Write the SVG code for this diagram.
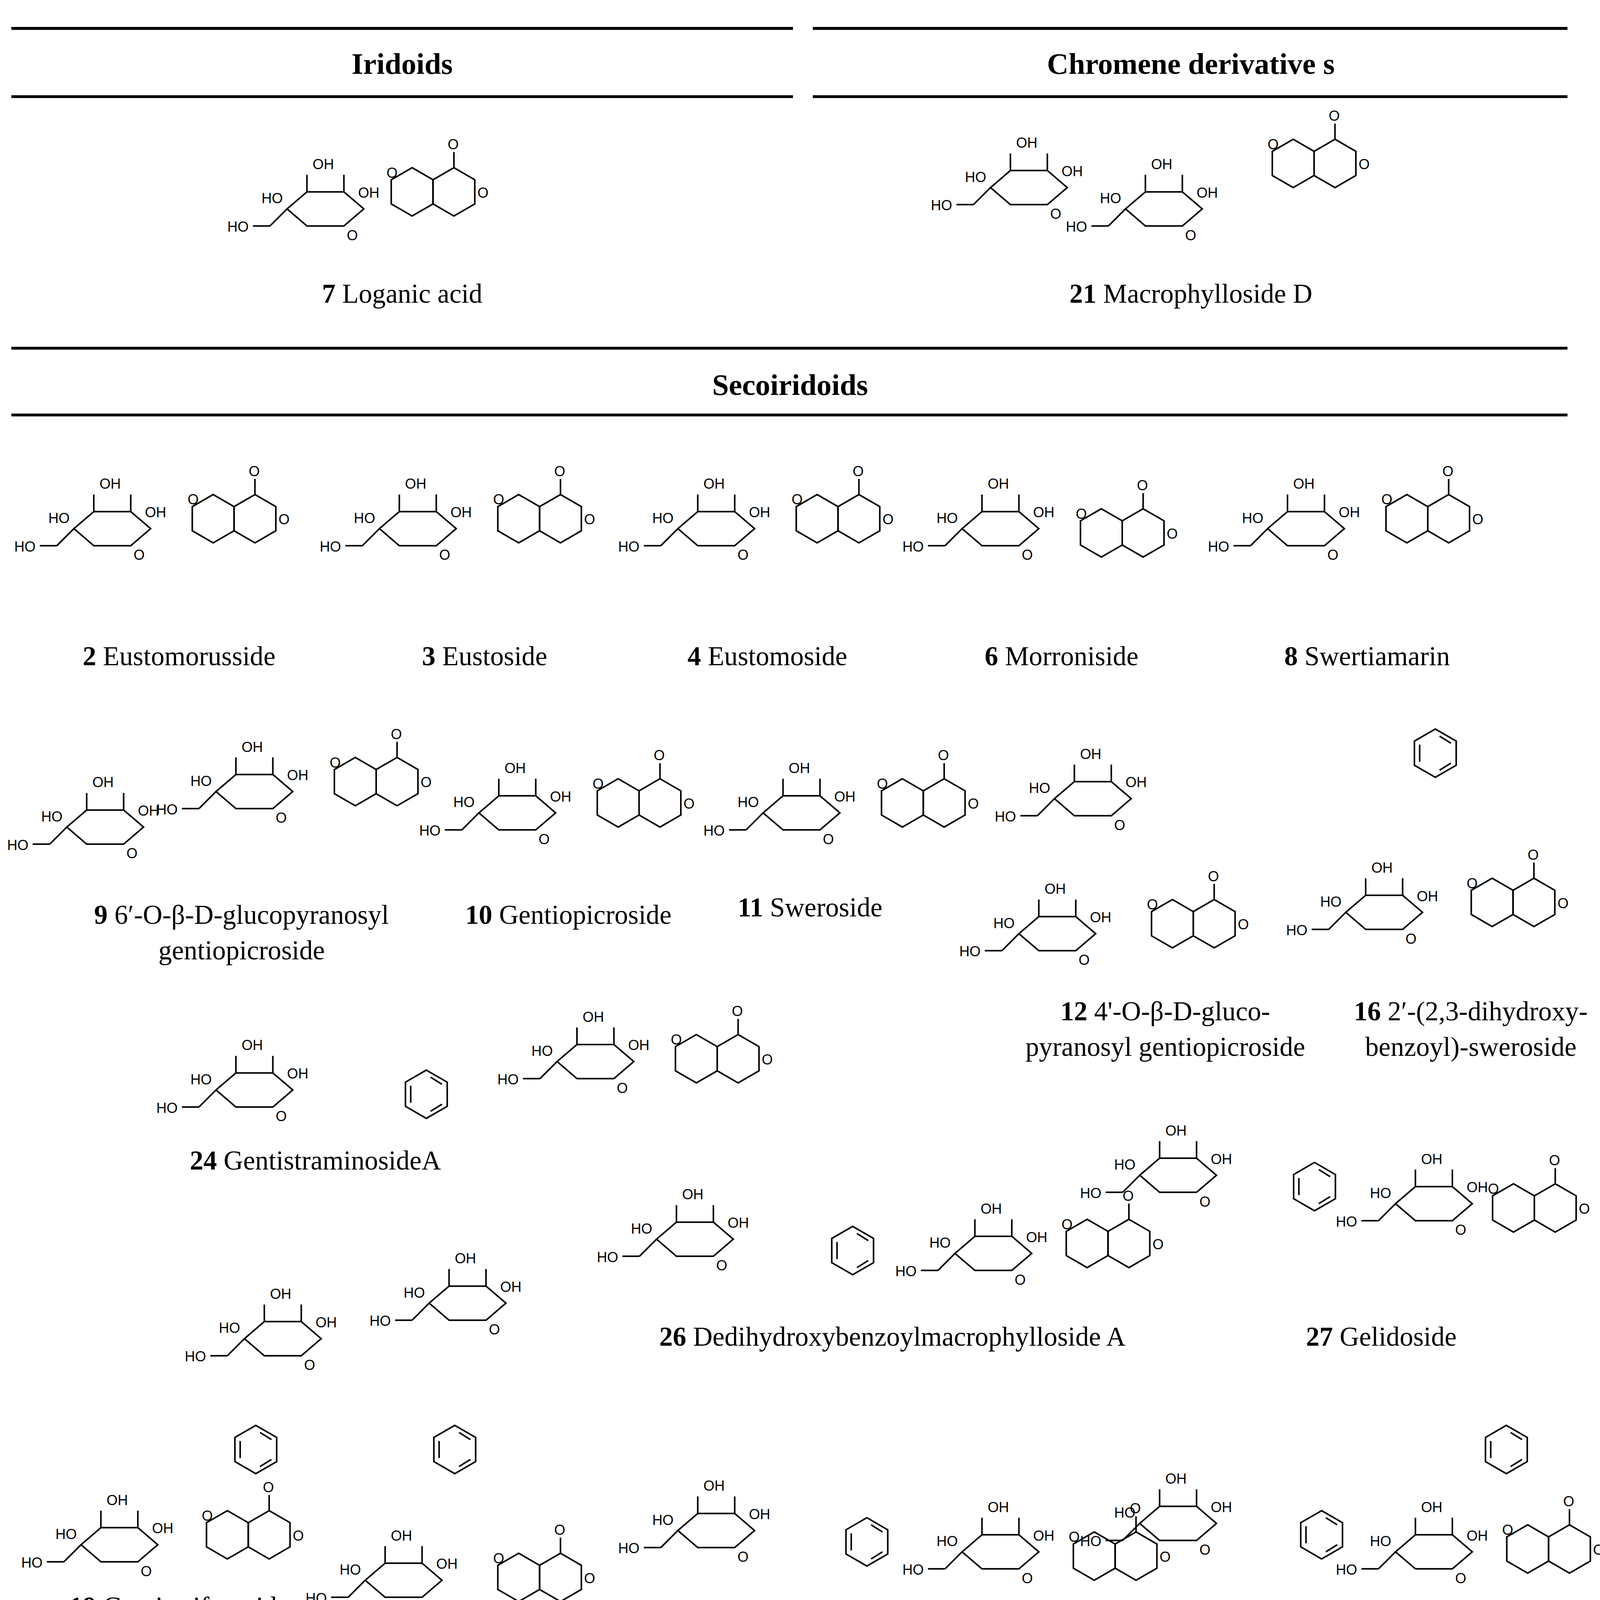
<svg xmlns="http://www.w3.org/2000/svg" width="4158" height="5680" viewBox="0 0 4158 5680">
<style>
.b{stroke:#000;stroke-width:1.1;fill:none}
.t{font-family:"Liberation Serif",serif;font-size:19px;text-anchor:middle;fill:#000}
.h{font-family:"Liberation Serif",serif;font-size:21px;font-weight:bold;text-anchor:middle;fill:#000}
.a{font-family:"Liberation Sans",sans-serif;font-size:10px;fill:#000}
.r{stroke:#000;stroke-width:2;fill:none}
</style>
<defs>
<g id="g">
<polygon class="b" points="-28,2 -14,-10 12,-10 26,2 12,14 -14,14"/>
<line class="b" x1="-14" y1="-10" x2="-14" y2="-22"/><line class="b" x1="12" y1="-10" x2="12" y2="-22"/>
<line class="b" x1="-28" y1="2" x2="-40" y2="14"/><line class="b" x1="-40" y1="14" x2="-52" y2="14"/>
<text class="a" x="-10" y="-26">OH</text><text class="a" x="-46" y="-2">HO</text><text class="a" x="22" y="-6">OH</text>
<text class="a" x="-70" y="18">HO</text><text class="a" x="14" y="24">O</text>
</g>
<g id="s">
<polygon class="b" points="0,-17 14.7,-8.5 14.7,8.5 0,17 -14.7,8.5 -14.7,-8.5"/>
<polygon class="b" points="29.4,-17 44.1,-8.5 44.1,8.5 29.4,17 14.7,8.5 14.7,-8.5"/>
<line class="b" x1="29.4" y1="-17" x2="29.4" y2="-28"/>
<text class="a" x="25" y="-30">O</text><text class="a" x="46" y="4">O</text><text class="a" x="-18" y="-10">O</text>
</g>
<g id="p">
<polygon class="b" points="0,-17 14.7,-8.5 14.7,8.5 0,17 -14.7,8.5 -14.7,-8.5"/>
<line class="b" x1="3" y1="-12" x2="11" y2="-7"/><line class="b" x1="-11" y1="-6" x2="-11" y2="6"/><line class="b" x1="3" y1="12" x2="11" y2="7"/>
</g>
<g id="f">
<use href="#p"/><use href="#p" x="29.4"/>
<line class="b" x1="29.4" y1="17" x2="29.4" y2="28"/>
<text class="a" x="26" y="38">O</text><text class="a" x="26" y="-19">O</text>
</g>
</defs>
<g transform="scale(3.638)">
<g id="headers">
<line class="r" x1="8" y1="20" x2="558" y2="20"/><line class="r" x1="572" y1="20" x2="1103" y2="20"/>
<text class="h" x="283" y="52">Iridoids</text><text class="h" x="838" y="52">Chromene derivative s</text>
<line class="r" x1="8" y1="68" x2="558" y2="68"/><line class="r" x1="572" y1="68" x2="1103" y2="68"/>
<line class="r" x1="8" y1="245" x2="1103" y2="245"/><text class="h" x="556" y="278">Secoiridoids</text>
<line class="r" x1="8" y1="292" x2="1103" y2="292"/>
<line class="r" x1="8" y1="1220" x2="1103" y2="1220"/><text class="h" x="556" y="1252">Flavonoids</text>
<line class="r" x1="8" y1="1268" x2="1103" y2="1268"/>
</g>
<g id="n7"><use href="#g" x="230" y="145"/><use href="#s" x="290" y="135"/><text class="t" x="283" y="213"><tspan font-weight="bold">7</tspan> Loganic acid</text></g>
<g id="n21"><use href="#g" x="725" y="130"/><use href="#g" x="820" y="145"/><use href="#s" x="910" y="115"/><text class="t" x="838" y="213"><tspan font-weight="bold">21</tspan> Macrophylloside D</text></g>
<g id="n2"><use href="#g" x="80" y="370"/><use href="#s" x="150" y="365"/><text class="t" x="126" y="468"><tspan font-weight="bold">2</tspan> Eustomorusside</text></g>
<g id="n3"><use href="#g" x="295" y="370"/><use href="#s" x="365" y="365"/><text class="t" x="341" y="468"><tspan font-weight="bold">3</tspan> Eustoside</text></g>
<g id="n4"><use href="#g" x="505" y="370"/><use href="#s" x="575" y="365"/><text class="t" x="540" y="468"><tspan font-weight="bold">4</tspan> Eustomoside</text></g>
<g id="n6"><use href="#g" x="705" y="370"/><use href="#s" x="775" y="375"/><text class="t" x="747" y="468"><tspan font-weight="bold">6</tspan> Morroniside</text></g>
<g id="n8"><use href="#g" x="920" y="370"/><use href="#s" x="990" y="365"/><text class="t" x="962" y="468"><tspan font-weight="bold">8</tspan> Swertiamarin</text></g>
<g id="n9"><use href="#g" x="75" y="580"/><use href="#g" x="180" y="555"/><use href="#s" x="250" y="550"/><text class="t" x="170" y="650"><tspan font-weight="bold">9</tspan> 6′-O-β-D-glucopyranosyl</text><text class="t" x="170" y="675">gentiopicroside</text></g>
<g id="n10"><use href="#g" x="365" y="570"/><use href="#s" x="435" y="565"/><text class="t" x="400" y="650"><tspan font-weight="bold">10</tspan> Gentiopicroside</text></g>
<g id="n11"><use href="#g" x="565" y="570"/><use href="#s" x="635" y="565"/><text class="t" x="570" y="645"><tspan font-weight="bold">11</tspan> Sweroside</text></g>
<g id="n12"><use href="#g" x="770" y="560"/><use href="#g" x="745" y="655"/><use href="#s" x="825" y="650"/><text class="t" x="820" y="718"><tspan font-weight="bold">12</tspan> 4'-O-β-D-gluco-</text><text class="t" x="820" y="743">pyranosyl gentiopicroside</text></g>
<g id="n16"><use href="#p" x="1010" y="530"/><use href="#g" x="975" y="640"/><use href="#s" x="1050" y="635"/><text class="t" x="1035" y="718"><tspan font-weight="bold">16</tspan> 2′-(2,3-dihydroxy-</text><text class="t" x="1035" y="743">benzoyl)-sweroside</text></g>
<g id="n24"><use href="#g" x="180" y="765"/><use href="#p" x="300" y="770"/><use href="#g" x="420" y="745"/><use href="#s" x="490" y="745"/><text class="t" x="222" y="823"><tspan font-weight="bold">24</tspan> GentistraminosideA</text></g>
<g id="n26"><use href="#g" x="490" y="870"/><use href="#p" x="600" y="880"/><use href="#g" x="700" y="880"/><use href="#s" x="765" y="875"/><text class="t" x="628" y="947"><tspan font-weight="bold">26</tspan> Dedihydroxybenzoylmacrophylloside A</text></g>
<g id="n27"><use href="#g" x="830" y="825"/><use href="#p" x="925" y="835"/><use href="#g" x="1010" y="845"/><use href="#s" x="1065" y="850"/><text class="t" x="972" y="947"><tspan font-weight="bold">27</tspan> Gelidoside</text></g>
<g id="n19"><use href="#g" x="200" y="940"/><use href="#p" x="180" y="1020"/><use href="#g" x="85" y="1085"/><use href="#s" x="160" y="1080"/><text class="t" x="126" y="1137"><tspan font-weight="bold">19</tspan> Gentiotriforoside</text></g>
<g id="n25"><use href="#g" x="330" y="915"/><use href="#p" x="320" y="1020"/><use href="#g" x="285" y="1110"/><use href="#s" x="365" y="1110"/><text class="t" x="385" y="1165"><tspan font-weight="bold">25</tspan> 6′-O-acetyl-3′-O-(2″-hydroxy-3″-O-β-D-</text><text class="t" x="385" y="1193">glucopyranosyloxy-benzoyl)sweroside</text></g>
<g id="n28"><use href="#g" x="505" y="1075"/><use href="#p" x="610" y="1085"/><use href="#g" x="705" y="1090"/><use href="#s" x="770" y="1095"/><text class="t" x="671" y="1193"><tspan font-weight="bold">28</tspan> Trifloroside</text></g>
<g id="n29"><use href="#g" x="830" y="1070"/><use href="#p" x="930" y="1080"/><use href="#p" x="1060" y="1020"/><use href="#g" x="1010" y="1090"/><use href="#s" x="1075" y="1090"/><text class="t" x="977" y="1193"><tspan font-weight="bold">29</tspan> Macrophylloside A</text></g>
<g id="n13"><use href="#g" x="125" y="1335"/><use href="#g" x="100" y="1440"/><use href="#f" x="175" y="1405"/><use href="#p" x="260" y="1385"/><text class="t" x="158" y="1515"><tspan font-weight="bold">13</tspan> Saponarin</text></g>
<g id="n15"><use href="#g" x="530" y="1310"/><use href="#p" x="510" y="1405"/><use href="#g" x="335" y="1440"/><use href="#f" x="410" y="1405"/><text class="t" x="390" y="1515"><tspan font-weight="bold">15</tspan> Isoorientin 4′-O-β-D-</text><text class="t" x="390" y="1540">glucopyranoside</text></g>
<g id="n17"><use href="#g" x="620" y="1440"/><use href="#f" x="695" y="1405"/><use href="#p" x="780" y="1385"/><text class="t" x="670" y="1515"><tspan font-weight="bold">17</tspan> Isovitexin</text></g>
<g id="n18"><use href="#g" x="900" y="1335"/><use href="#g" x="1080" y="1305"/><use href="#g" x="880" y="1440"/><use href="#f" x="955" y="1405"/><use href="#p" x="1045" y="1395"/><text class="t" x="950" y="1515"><tspan font-weight="bold">18</tspan> Isovitexin 4′,7-di-O-β-D-</text><text class="t" x="950" y="1540">glucopyranoside</text></g>
<g id="connectors"></g>
</g>
</svg>
